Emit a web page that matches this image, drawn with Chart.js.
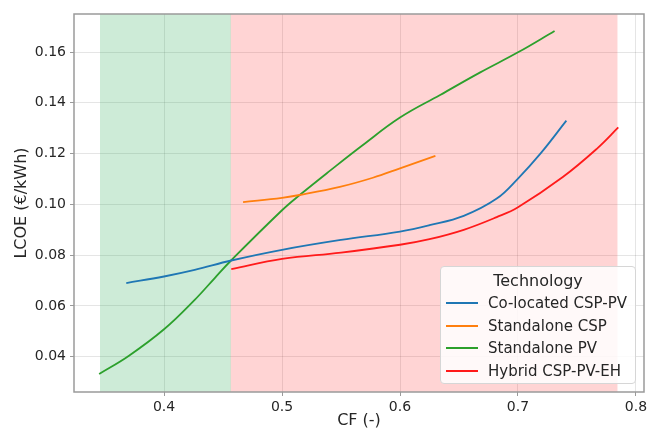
<!DOCTYPE html>
<html>
<head>
<meta charset="utf-8">
<script src="https://cdn.jsdelivr.net/npm/chart.js@4.4.1/dist/chart.umd.min.js"></script>
<style>
  body { margin: 0; background: #fff; }
  #wrap { position: relative; width: 648px; height: 430px; font-family: "DejaVu Sans", sans-serif; color: #262626; }
  #legend { position: absolute; left: 440px; top: 266px; width: 196px; height: 118px; box-sizing: border-box;
    background: rgba(255,255,255,0.85); border: 1px solid #d6d6d6; border-radius: 4px; }
  #legend .title { position: absolute; left: 0; right: 0; top: 3px; height: 22px; line-height: 22px; text-align: center; font-size: 16px; }
  #legend .row { position: absolute; left: 0; height: 22.5px; line-height: 22.5px; font-size: 15px; white-space: nowrap; }
  #legend .row span.h { position: absolute; left: 5px; top: 10px; width: 32px; height: 2px; }
  #legend .row span.t { position: absolute; left: 47px; }
</style>
</head>
<body>
<div id="wrap">
  <canvas id="chart" width="648" height="430"></canvas>
  <div id="legend"><div class="title">Technology</div></div>
</div>
<script>
// capacity factor (x) and LCOE (y)
const colocatedCF = [0.368, 0.400, 0.426, 0.457, 0.500, 0.550, 0.600, 0.625, 0.654, 0.682, 0.700, 0.719, 0.741];
const colocatedLCOE = [0.0690, 0.0716, 0.0742, 0.0779, 0.0821, 0.0860, 0.0893, 0.0918, 0.0955, 0.1023, 0.1102, 0.1200, 0.1330];

const cspCF = [0.467, 0.500, 0.515, 0.549, 0.577, 0.600, 0.630];
const cspLCOE = [0.1009, 0.1026, 0.1037, 0.1069, 0.1105, 0.1142, 0.1191];

const pvCF = [0.345, 0.370, 0.400, 0.426, 0.443, 0.457, 0.500, 0.515, 0.541, 0.568, 0.600, 0.634, 0.668, 0.700, 0.731];
const pvLCOE = [0.0332, 0.0403, 0.0508, 0.0624, 0.0710, 0.0780, 0.0977, 0.1037, 0.1134, 0.1232, 0.1342, 0.1431, 0.1520, 0.1599, 0.1683];

const hybridCF = [0.457, 0.500, 0.550, 0.600, 0.625, 0.654, 0.682, 0.700, 0.738, 0.767, 0.785];
const hybridLCOE = [0.0745, 0.0785, 0.0810, 0.0841, 0.0863, 0.0900, 0.0950, 0.0989, 0.1108, 0.1220, 0.1303];

// shaded CF ranges (they meet at ~0.4565)
const greenBand = [0.3457, 0.4567];
const redBand = [0.4563, 0.7845];

const xTicks = [0.4, 0.5, 0.6, 0.7, 0.8];
const yTicks = [0.04, 0.06, 0.08, 0.10, 0.12, 0.14, 0.16];
const xMin = 0.3237, xMax = 0.8068;
const yMin = 0.0261, yMax = 0.175;

const series = [
  { label: 'Co-located CSP-PV', x: colocatedCF, y: colocatedLCOE, color: '#1f77b4' },
  { label: 'Standalone CSP', x: cspCF, y: cspLCOE, color: '#ff7f0e' },
  { label: 'Standalone PV', x: pvCF, y: pvLCOE, color: '#2ca02c' },
  { label: 'Hybrid CSP-PV-EH', x: hybridCF, y: hybridLCOE, color: '#ff1a1a' }
];

const zip = (xs, ys) => xs.map((v, i) => ({ x: v, y: ys[i] }));

const lineSets = series.map(s => ({
  label: s.label,
  data: zip(s.x, s.y),
  borderColor: s.color,
  borderWidth: 1.8,
  pointRadius: 0,
  showLine: true,
  fill: false,
  tension: 0.4
}));

const band = (range, color) => ({
  label: 'band',
  data: range.map(v => ({ x: v, y: yMax })),
  showLine: true,
  borderWidth: 0,
  borderColor: 'rgba(0,0,0,0)',
  backgroundColor: color,
  pointRadius: 0,
  fill: 'start'
});

// frame on all four sides, like the matplotlib spines
const frame = {
  id: 'frame',
  afterDatasetsDraw(chart) {
    const { ctx, chartArea: a } = chart;
    ctx.save();
    ctx.strokeStyle = '#9a9a9a';
    ctx.lineWidth = 1.5;
    ctx.strokeRect(a.left, a.top, a.right - a.left, a.bottom - a.top);
    ctx.restore();
  }
};

const tickFont = { family: 'DejaVu Sans', size: 14 };
const titleFont = { family: 'DejaVu Sans', size: 16 };

new Chart(document.getElementById('chart'), {
  type: 'scatter',
  data: {
    datasets: [...lineSets, band(redBand, 'rgba(255,0,0,0.17)'), band(greenBand, 'rgba(40,170,80,0.23)')]
  },
  options: {
    responsive: false,
    animation: false,
    layout: { padding: { top: 14, right: 4, left: 0, bottom: 0 } },
    plugins: { legend: { display: false }, tooltip: { enabled: false } },
    scales: {
      x: {
        type: 'linear', min: xMin, max: xMax,
        afterBuildTicks: axis => { axis.ticks = xTicks.map(v => ({ value: v })); },
        afterFit: axis => { axis.height = 38; axis.paddingLeft = 0; axis.paddingRight = 0; },
        ticks: { callback: v => v.toFixed(1), font: tickFont, color: '#262626', padding: 3, maxRotation: 0 },
        grid: { color: 'rgba(0,0,0,0.1)', lineWidth: 1, tickLength: 4, tickColor: '#9a9a9a' },
        border: { display: false },
        title: { display: true, text: 'CF (-)', font: titleFont, color: '#262626', padding: { top: 0, bottom: 0 } }
      },
      y: {
        type: 'linear', min: yMin, max: yMax,
        afterBuildTicks: axis => { axis.ticks = yTicks.map(v => ({ value: v })); },
        afterFit: axis => { axis.width = 74; axis.paddingTop = 0; axis.paddingBottom = 0; },
        ticks: { callback: v => v.toFixed(2), font: tickFont, color: '#262626', padding: 4 },
        grid: { color: 'rgba(0,0,0,0.1)', lineWidth: 1, tickLength: 4, tickColor: '#9a9a9a' },
        border: { display: false },
        title: { display: true, text: 'LCOE (€/kWh)', font: titleFont, color: '#262626', padding: { top: 12, bottom: 0 } }
      }
    }
  },
  plugins: [frame]
});

// legend inside the plot, lower right
const legend = document.getElementById('legend');
series.forEach((s, i) => {
  const row = document.createElement('div');
  row.className = 'row';
  row.style.top = (25 + i * 22.5) + 'px';
  row.innerHTML = '<span class="h" style="background:' + s.color + '"></span><span class="t">' + s.label + '</span>';
  legend.appendChild(row);
});
</script>
</body>
</html>
